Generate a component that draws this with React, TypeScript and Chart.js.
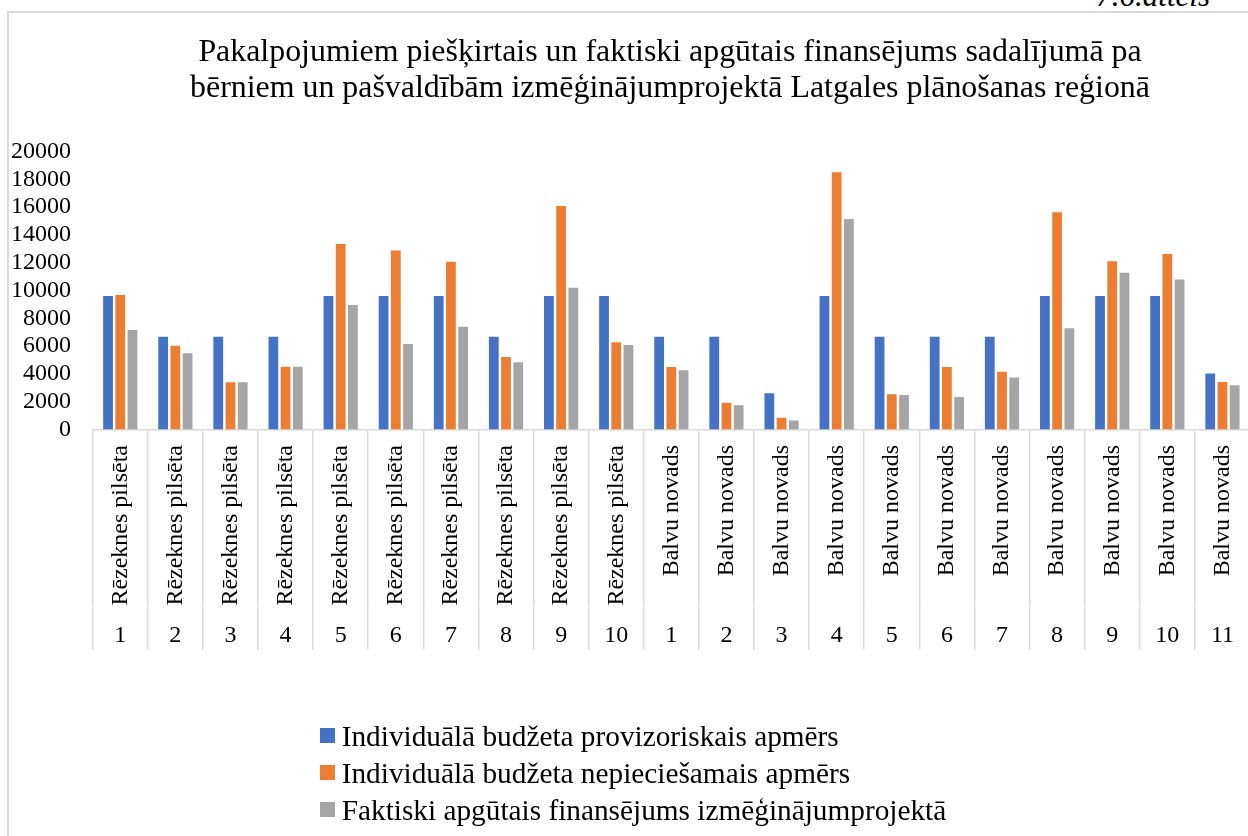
import React, { useEffect, useRef } from 'react';
import { Chart, registerables } from 'chart.js';

Chart.register(...registerables);

// ---- data ----
const municipalities = [
  'Rēzeknes pilsēta', 'Rēzeknes pilsēta', 'Rēzeknes pilsēta', 'Rēzeknes pilsēta', 'Rēzeknes pilsēta',
  'Rēzeknes pilsēta', 'Rēzeknes pilsēta', 'Rēzeknes pilsēta', 'Rēzeknes pilsēta', 'Rēzeknes pilsēta',
  'Balvu novads', 'Balvu novads', 'Balvu novads', 'Balvu novads', 'Balvu novads', 'Balvu novads',
  'Balvu novads', 'Balvu novads', 'Balvu novads', 'Balvu novads', 'Balvu novads',
];
const childNumbers = ['1', '2', '3', '4', '5', '6', '7', '8', '9', '10', '1', '2', '3', '4', '5', '6', '7', '8', '9', '10', '11'];

const provisionalBudget = [9600, 6680, 6680, 6680, 9600, 9600, 9600, 6680, 9600, 9600, 6680, 6680, 2600, 9600, 6680, 6680, 6680, 9600, 9600, 9600, 4020];
const requiredBudget = [9680, 6030, 3400, 4520, 13350, 12870, 12070, 5220, 16080, 6270, 4500, 1930, 850, 18500, 2530, 4500, 4160, 15630, 12100, 12630, 3420];
const absorbedFunding = [7160, 5480, 3400, 4520, 8960, 6150, 7400, 4830, 10200, 6080, 4260, 1740, 640, 15140, 2480, 2340, 3750, 7280, 11280, 10800, 3180];

const seriesNames = [
  'Individuālā budžeta provizoriskais apmērs',
  'Individuālā budžeta nepieciešamais apmērs',
  'Faktiski apgūtais finansējums izmēģinājumprojektā',
];
const seriesColors = ['#4472C4', '#ED7D31', '#A5A5A5'];

const titleLines = [
  'Pakalpojumiem piešķirtais un faktiski apgūtais finansējums sadalījumā pa',
  'bērniem un pašvaldībām izmēģinājumprojektā Latgales plānošanas reģionā',
];
const figureCaption = '7.6.attēls';

const yMin = 0;
const yMax = 20000;
const yStep = 2000;

const FONT = "'Liberation Serif', 'Times New Roman', serif";

const stackedLegend = {
  id: 'stackedLegend',
  afterDraw(chart: any) {
    const ctx = chart.ctx;
    const x2 = chart.scales.x2;
    const top = x2.bottom + 78.5;
    const left = 311;
    ctx.save();
    ctx.font = `29.3px ${FONT}`;
    ctx.textBaseline = 'alphabetic';
    ctx.textAlign = 'left';
    chart.data.datasets.forEach((ds: any, i: number) => {
      const y = top + i * 37;
      ctx.fillStyle = ds.backgroundColor;
      ctx.fillRect(left, y, 15, 15);
      ctx.fillStyle = '#000';
      ctx.fillText(ds.label, left + 21.7, y + 17.7);
    });
    ctx.restore();
  },
};

export default function App() {
  const canvasRef = useRef<HTMLCanvasElement | null>(null);

  useEffect(() => {
    if (!canvasRef.current) return;
    const values = [provisionalBudget, requiredBudget, absorbedFunding];
    const chart = new Chart(canvasRef.current, {
      type: 'bar',
      data: {
        labels: municipalities,
        datasets: values.map((d, i) => ({
          label: seriesNames[i],
          data: d,
          backgroundColor: seriesColors[i],
          borderWidth: 0,
          xAxisID: 'x',
          yAxisID: 'y',
          categoryPercentage: 0.665,
          barPercentage: 0.8,
        })),
      },
      options: {
        responsive: false,
        animation: false,
        layout: { padding: { left: 0, right: 0, top: 0, bottom: 186.5 } },
        plugins: {
          legend: { display: false },
          tooltip: { enabled: false },
          title: {
            display: true,
            text: titleLines,
            color: '#000',
            font: { family: FONT, size: 31.9, weight: 'normal', lineHeight: 36 / 31.9 },
            padding: { top: 21.5, bottom: 45 },
          },
        },
        scales: {
          x: {
            type: 'category',
            position: 'bottom',
            weight: 0,
            offset: true,
            grid: { offset: true, drawOnChartArea: false, tickLength: 177, color: '#d9d9d9', lineWidth: 1.5 },
            border: { display: true, color: '#d9d9d9', width: 1.5 },
            ticks: {
              autoSkip: false,
              minRotation: 90,
              maxRotation: 90,
              padding: -161.5,
              color: '#000',
              font: { family: FONT, size: 24 },
            },
            afterFit: (s: any) => { s.height = 177; },
          },
          x2: {
            type: 'category',
            position: 'bottom',
            weight: 1,
            labels: childNumbers,
            offset: true,
            grid: { offset: true, drawOnChartArea: false, tickLength: 43, color: '#d9d9d9', lineWidth: 1.5 },
            border: { display: false },
            ticks: {
              autoSkip: false,
              minRotation: 0,
              maxRotation: 0,
              padding: -28.4,
              color: '#000',
              font: { family: FONT, size: 24 },
            },
            afterFit: (s: any) => { s.height = 43; },
          },
          y: {
            type: 'linear',
            position: 'left',
            min: yMin,
            max: yMax,
            grid: { display: false, drawTicks: false },
            border: { display: false },
            ticks: {
              stepSize: yStep,
              autoSkip: false,
              padding: 21.7,
              color: '#000',
              font: { family: FONT, size: 24, lineHeight: 1 },
              callback: (v: any) => String(v),
            },
            afterFit: (s: any) => { s.width = 83.7; },
          },
          yR: {
            type: 'linear',
            position: 'right',
            grid: { display: false, drawTicks: false },
            border: { display: false },
            ticks: { display: false },
            afterFit: (s: any) => { s.width = 81; },
          },
        },
      } as any,
      plugins: [stackedLegend],
    });
    return () => chart.destroy();
  }, []);

  return (
    <div
      style={{
        position: 'fixed',
        left: 0,
        top: 0,
        width: 1248,
        height: 836,
        overflow: 'hidden',
        background: '#fff',
      }}
    >
      <div
        style={{
          position: 'absolute',
          right: 38,
          top: -20,
          fontFamily: FONT,
          fontStyle: 'italic',
          fontSize: 31,
          lineHeight: '31px',
          color: '#000',
          whiteSpace: 'nowrap',
        }}
      >
        {figureCaption}
      </div>
      <div
        style={{
          position: 'absolute',
          left: 7,
          top: 11,
          width: 1400,
          height: 900,
          borderLeft: '2px solid #d9d9d9',
          borderTop: '2px solid #d9d9d9',
        }}
      />
      <canvas
        ref={canvasRef}
        width={1322}
        height={823}
        style={{ position: 'absolute', left: 9, top: 13, width: 1322, height: 823 }}
      />
    </div>
  );
}
